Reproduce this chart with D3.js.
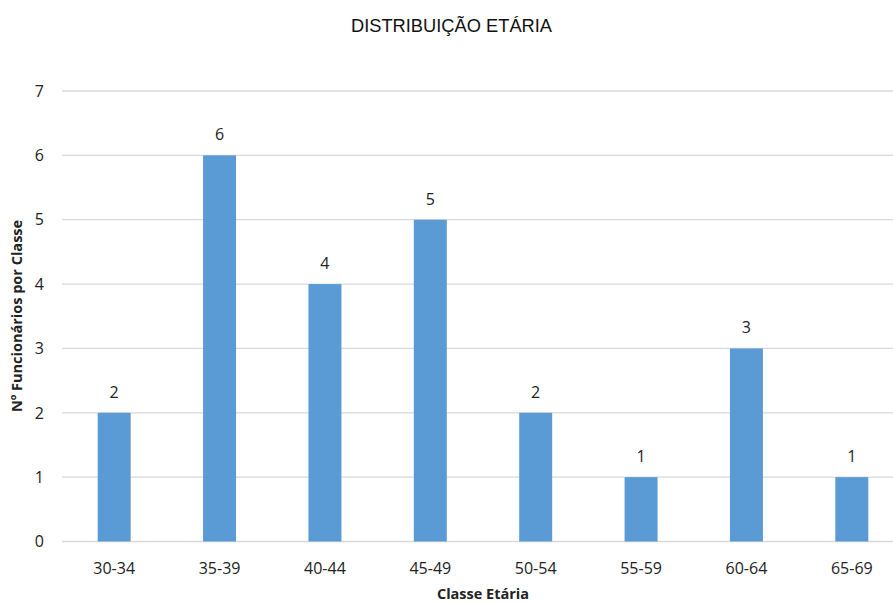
<!DOCTYPE html>
<html><head><meta charset="utf-8">
<script src="https://cdn.jsdelivr.net/npm/d3@7"></script>
<style>body{margin:0;background:#fff}svg{display:block}</style>
</head><body>
<script>
const categories = ["30-34","35-39","40-44","45-49","50-54","55-59","60-64","65-69"];
const values = [2,6,4,5,2,1,3,1];
const yTicks = [0,1,2,3,4,5,6,7];

const W = 893, H = 604;
const svg = d3.select("body").append("svg").attr("width", W).attr("height", H);
const font = "'Open Sans', 'Noto Sans', sans-serif";

const x = d3.scaleBand().domain(categories).range([61.5, 904.5]).paddingInner(0.687).paddingOuter(0.3435);
const y = d3.scaleLinear().domain([0,7]).range([541.5, 91]);

// gridlines
svg.append("g").selectAll("line").data(yTicks).join("line")
  .attr("x1", 62).attr("x2", W).attr("y1", d => y(d)).attr("y2", d => y(d))
  .attr("stroke", "#d9d9d9").attr("stroke-width", 1.3);

// y tick labels
svg.append("g").selectAll("text").data(yTicks).join("text")
  .attr("x", 44).attr("y", d => y(d)).attr("dy", "0.36em")
  .attr("text-anchor", "end").attr("font-family", font).attr("font-size", 16).attr("fill", "#222")
  .text(d => d);

// bars
svg.append("g").selectAll("rect").data(values).join("rect")
  .attr("x", (d,i) => x(categories[i])).attr("width", x.bandwidth())
  .attr("y", d => y(d)).attr("height", d => y(0) - y(d))
  .attr("fill", "#5b9bd5");

// value labels
svg.append("g").selectAll("text").data(values).join("text")
  .attr("x", (d,i) => x(categories[i]) + x.bandwidth()/2).attr("y", d => y(d) - 15)
  .attr("text-anchor", "middle").attr("font-family", font).attr("font-size", 16).attr("fill", "#222")
  .text(d => d);

// category labels
svg.append("g").selectAll("text").data(categories).join("text")
  .attr("x", d => x(d) + x.bandwidth()/2).attr("y", 574)
  .attr("text-anchor", "middle").attr("font-family", font).attr("font-size", 16).attr("fill", "#222")
  .text(d => d);

// axis titles
svg.append("text").attr("x", 483).attr("y", 599).attr("text-anchor", "middle")
  .attr("font-family", font).attr("font-size", 14.5).attr("font-weight", "bold").attr("fill", "#222")
  .text("Classe Etária");
svg.append("text").attr("transform", "translate(22,316) rotate(-90)").attr("text-anchor", "middle")
  .attr("font-family", font).attr("font-size", 14.5).attr("font-weight", "bold").attr("fill", "#222")
  .text("Nº Funcionários por Classe");

// title
svg.append("text").attr("x", 451.5).attr("y", 32).attr("text-anchor", "middle")
  .attr("font-family", "'Liberation Sans', Arial, sans-serif").attr("font-size", 18.3).attr("fill", "#111")
  .text("DISTRIBUIÇÃO ETÁRIA");
</script>
</body></html>
